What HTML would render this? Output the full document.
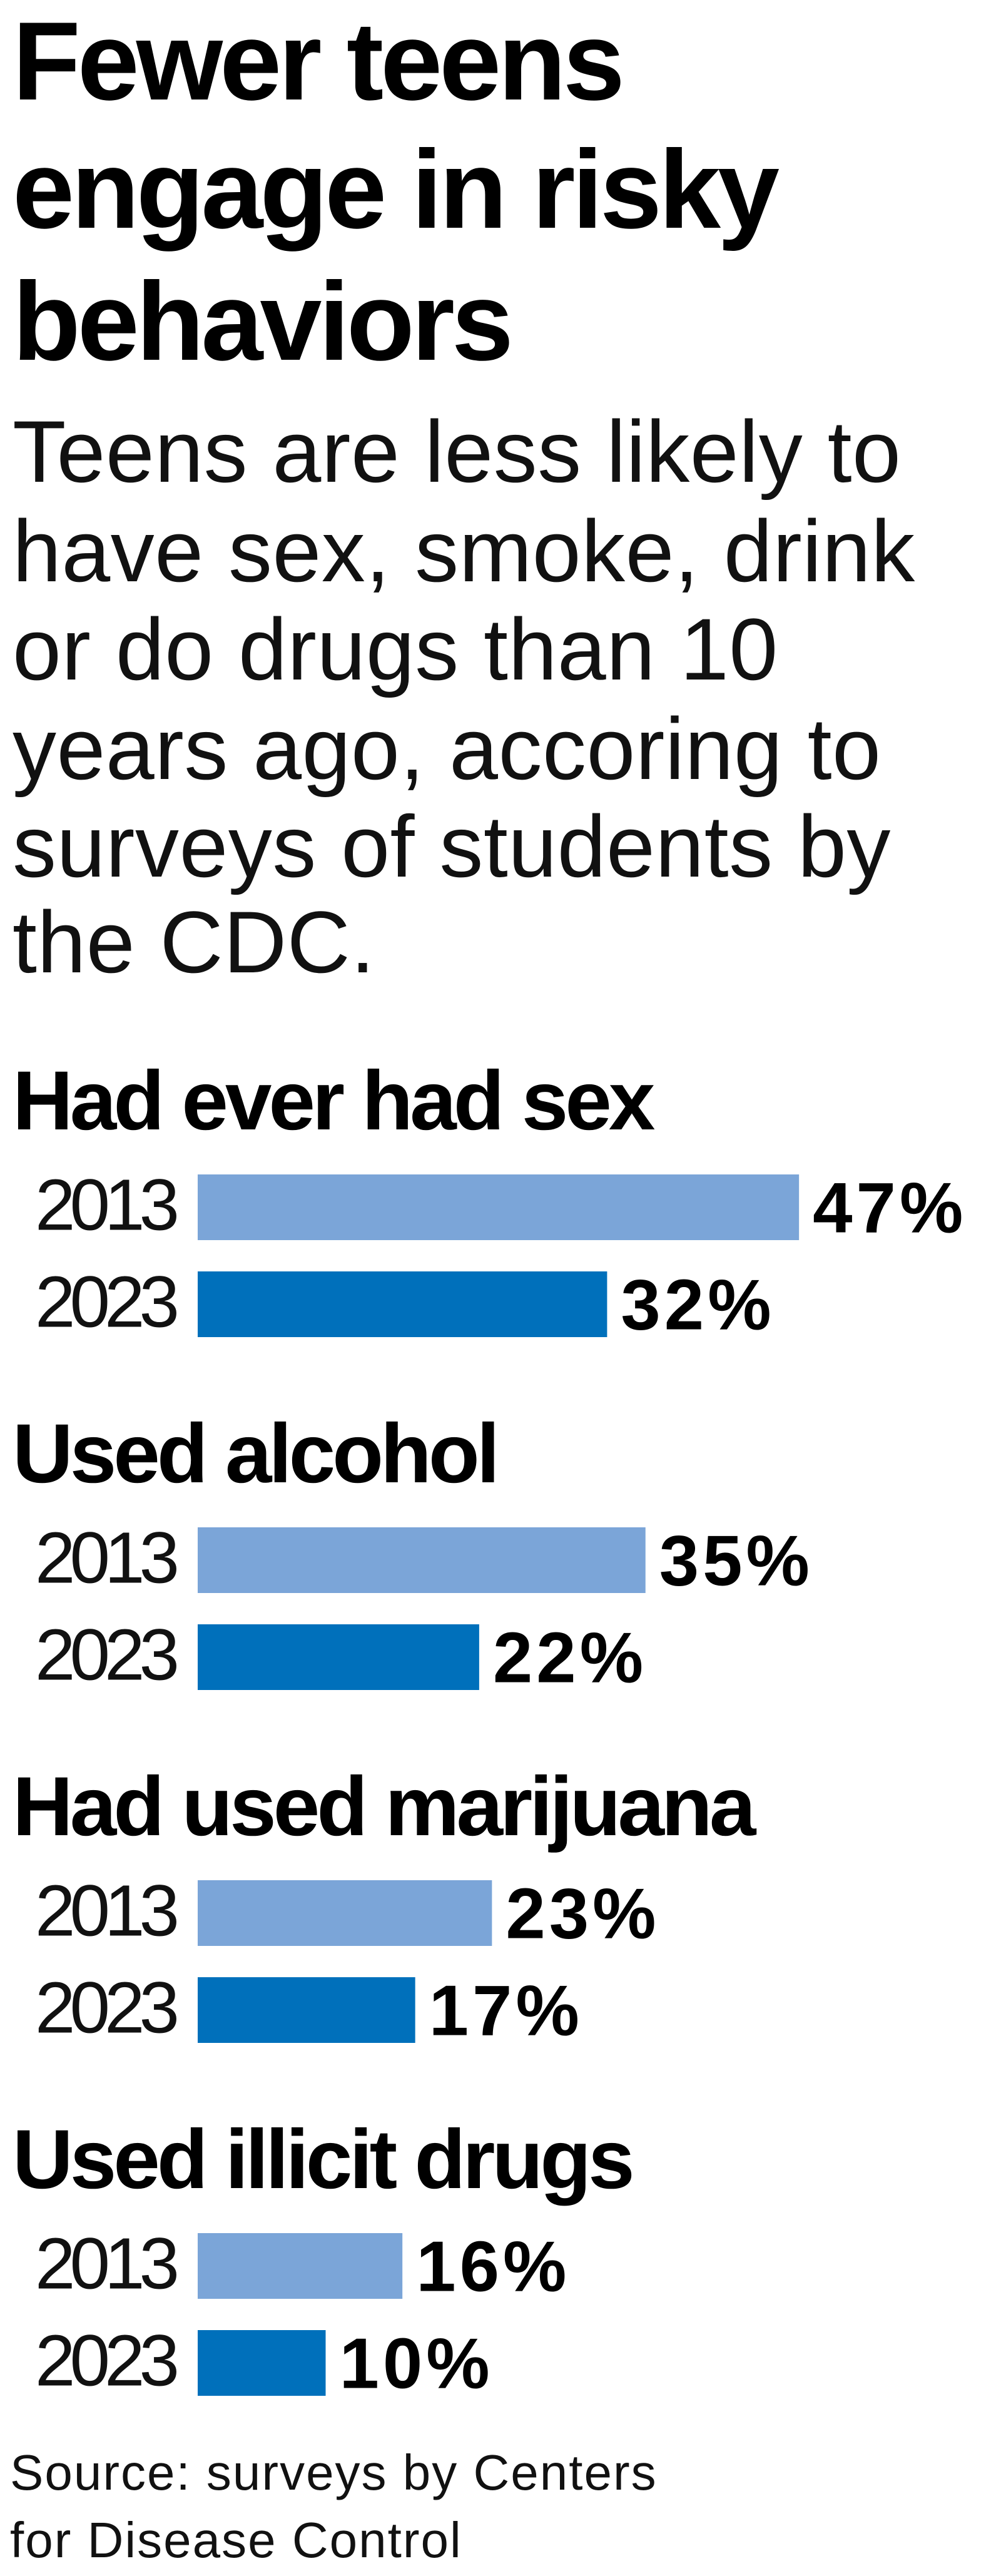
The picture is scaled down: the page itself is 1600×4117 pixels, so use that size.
<!DOCTYPE html>
<html><head><meta charset="utf-8">
<style>
html,body{margin:0;padding:0;background:#fff;}
svg{display:block;}
.t{font-family:"Liberation Sans",sans-serif;}
</style></head>
<body>
<svg id="chart" width="1600" height="4117" viewBox="0 0 1600 4117" xmlns="http://www.w3.org/2000/svg">
  <rect width="1600" height="4117" fill="#fff"/>
  <g class="t" font-weight="bold" font-size="178" fill="#000" letter-spacing="-5">
    <text x="20" y="159">Fewer teens</text>
    <text x="20" y="364">engage in risky</text>
    <text x="20" y="575">behaviors</text>
  </g>
  <g class="t" font-size="140" fill="#111" letter-spacing="0.5">
    <text x="20" y="770">Teens are less likely to</text>
    <text x="20" y="929">have sex, smoke, drink</text>
    <text x="20" y="1086">or do drugs than 10</text>
    <text x="20" y="1245">years ago, accoring to</text>
    <text x="20" y="1401">surveys of students by</text>
    <text x="20" y="1554">the CDC.</text>
  </g>
  <g id="groups"></g>
  <g class="t" font-size="80" fill="#111" letter-spacing="2">
    <text x="16" y="3979">Source: surveys by Centers</text>
    <text x="16" y="4087">for Disease Control</text>
  </g>
</svg>
<script>
const categories = ["Had ever had sex", "Used alcohol", "Had used marijuana", "Used illicit drugs"];
const years = ["2013", "2023"];
const values2013 = [47, 35, 23, 16];
const values2023 = [32, 22, 17, 10];
const valueLabels2013 = ["47%", "35%", "23%", "16%"];
const valueLabels2023 = ["32%", "22%", "17%", "10%"];

const NS = "http://www.w3.org/2000/svg";
const x0 = 316, pxPerPct = 20.45;
function xScale(v){ return x0 + v * pxPerPct; }
const groupTop = 1805, groupStep = 564, barH = 105;
const colors = ["#7ba5d8", "#0070bb"];
const root = document.getElementById("groups");

function mk(tag, attrs){
  const e = document.createElementNS(NS, tag);
  for (const k in attrs) e.setAttribute(k, attrs[k]);
  return e;
}

categories.forEach((cat, i) => {
  const base = groupTop + groupStep * i;
  const g = mk("g", {});
  
  
  const h = mk("text", {x: 20, y: base, "font-family": "Liberation Sans, sans-serif", "font-weight": "bold", "font-size": 134, "letter-spacing": -5, fill: "#000"});
  
  
  h.textContent = cat;
  g.appendChild(h);
  const series = [values2013[i], values2023[i]];
  const labels = [valueLabels2013[i], valueLabels2023[i]];
  series.forEach((v, j) => {
    const top = base + 72 + j * 155;
    const cy = top + barH / 2;
    const yl = mk("text", {x: 278, y: cy + 36, "text-anchor": "end", "font-family": "Liberation Sans, sans-serif", "font-size": 116, "letter-spacing": -9, fill: "#111"});
    
    
    yl.textContent = years[j];
    g.appendChild(yl);
    const r = mk("rect", {x: x0, y: top, width: xScale(v) - x0, height: barH, fill: colors[j]});
    
    
    g.appendChild(r);
    const vl = mk("text", {x: xScale(v) + 22, y: cy + 40, "font-family": "Liberation Sans, sans-serif", "font-weight": "bold", "font-size": 114, "letter-spacing": 6, fill: "#000"});
    
    
    vl.textContent = labels[j];
    g.appendChild(vl);
  });
  root.appendChild(g);
});
</script>
</body></html>
